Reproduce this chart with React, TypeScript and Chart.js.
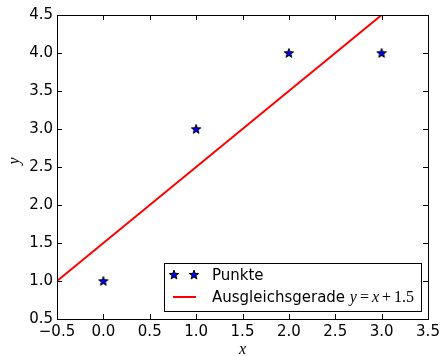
import React, { useEffect, useRef } from "react";
import { Chart, registerables } from "chart.js";

Chart.register(...registerables);

const pointsX = [0, 1, 2, 3];
const pointsY = [1.0, 3.0, 4.0, 4.0];
const fitX = [-0.5, 3.0];
const fitY = [1.0, 4.5];
const xTicks = [-0.5, 0.0, 0.5, 1.0, 1.5, 2.0, 2.5, 3.0, 3.5];
const yTicks = [0.5, 1.0, 1.5, 2.0, 2.5, 3.0, 3.5, 4.0, 4.5];
const legendLabels = ["Punkte", "Ausgleichsgerade "];
const legendMath = "y=x+1.5";
const xLabel = "x";
const yLabel = "y";

const TICK_FONT = "15px 'DejaVu Sans'";
const MATH_FONT_IT = "italic 16px 'Liberation Serif'";
const MATH_FONT_UP = "16px 'Liberation Serif'";
const STAR_RO = 4.9;
const STAR_RI = 2.0;

function makeStar(): HTMLCanvasElement {
  const c = document.createElement("canvas");
  c.width = 12;
  c.height = 12;
  const ctx = c.getContext("2d")!;
  drawStar(ctx, 6, 6.4, STAR_RO, STAR_RI);
  return c;
}

function drawStar(ctx: CanvasRenderingContext2D, cx: number, cy: number, ro: number, ri: number) {
  ctx.beginPath();
  for (let i = 0; i < 10; i++) {
    const r = i % 2 === 0 ? ro : ri;
    const a = -Math.PI / 2 + (i * Math.PI) / 5;
    const px = cx + r * Math.cos(a);
    const py = cy + r * Math.sin(a);
    if (i === 0) ctx.moveTo(px, py);
    else ctx.lineTo(px, py);
  }
  ctx.closePath();
  ctx.fillStyle = "#0000ff";
  ctx.fill();
  ctx.strokeStyle = "#000000";
  ctx.lineWidth = 1;
  ctx.stroke();
}

const fmt = (v: number) => {
  const s = Number(v).toFixed(1);
  return s.replace("-", "\u2212");
};

const framePlugin = {
  id: "mplFrame",
  afterDatasetsDraw(chart: any) {
    const ctx = chart.ctx as CanvasRenderingContext2D;
    const { left, right, top, bottom } = chart.chartArea;
    const xs = chart.scales.x;
    const ys = chart.scales.y;
    const TL = 5;
    ctx.save();
    ctx.strokeStyle = "#000";
    ctx.lineWidth = 1;
    ctx.beginPath();
    xTicks.forEach((t) => {
      const px = Math.round(xs.getPixelForValue(t)) + 0.5;
      ctx.moveTo(px, bottom);
      ctx.lineTo(px, bottom - TL);
      ctx.moveTo(px, top);
      ctx.lineTo(px, top + TL);
    });
    yTicks.forEach((t) => {
      const py = Math.round(ys.getPixelForValue(t)) + 0.5;
      ctx.moveTo(left, py);
      ctx.lineTo(left + TL, py);
      ctx.moveTo(right, py);
      ctx.lineTo(right - TL, py);
    });
    ctx.stroke();
    ctx.strokeRect(Math.round(left) + 0.5, Math.round(top) + 0.5, Math.round(right - left), Math.round(bottom - top));

    // legend
    const lx = 164.5, ly = 263.5, lw = 257, lh = 48;
    ctx.fillStyle = "#fff";
    ctx.fillRect(lx, ly, lw, lh);
    ctx.strokeRect(lx, ly, lw, lh);
    drawStar(ctx, 174, 275, STAR_RO, STAR_RI);
    drawStar(ctx, 194, 275, STAR_RO, STAR_RI);
    ctx.strokeStyle = "#ff0000";
    ctx.lineWidth = 2;
    ctx.beginPath();
    ctx.moveTo(173, 297);
    ctx.lineTo(196, 297);
    ctx.stroke();
    ctx.fillStyle = "#000";
    ctx.font = TICK_FONT;
    ctx.textBaseline = "alphabetic";
    ctx.textAlign = "left";
    ctx.fillText(legendLabels[0], 212, 280);
    ctx.fillText(legendLabels[1], 212, 302);
    let mx = 212 + ctx.measureText(legendLabels[1]).width;
    const parts: [string, boolean, number][] = [];
    for (const ch of legendMath.split(/(?=[=+])|(?<=[=+])/)) {
      parts.push([ch, /^[a-z]$/.test(ch), /^[=+]$/.test(ch) ? 3 : 0]);
    }
    parts.forEach(([s, it, sp]) => {
      ctx.font = it ? MATH_FONT_IT : MATH_FONT_UP;
      mx += sp;
      ctx.fillText(s, mx, 302);
      mx += ctx.measureText(s).width + sp;
    });

    // axis labels
    ctx.font = MATH_FONT_IT;
    ctx.textAlign = "center";
    ctx.textBaseline = "middle";
    ctx.fillText(xLabel, (left + right) / 2, 350);
    ctx.save();
    ctx.translate(15, (top + bottom) / 2 - 6);
    ctx.rotate(-Math.PI / 2);
    ctx.fillText(yLabel, 0, 0);
    ctx.restore();
    ctx.restore();
  },
};

export default function App() {
  const ref = useRef<HTMLCanvasElement>(null);
  useEffect(() => {
    const star = makeStar();
    const chart = new Chart(ref.current!, {
      type: "scatter",
      data: {
        datasets: [
          {
            label: legendLabels[0],
            data: pointsX.map((x, i) => ({ x, y: pointsY[i] })),
            pointStyle: star as any,
            pointRadius: 6,
            showLine: false,
          },
          {
            label: legendLabels[1],
            data: fitX.map((x, i) => ({ x, y: fitY[i] })),
            showLine: true,
            borderColor: "#ff0000",
            borderWidth: 2,
            pointRadius: 0,
          },
        ],
      },
      options: {
        responsive: false,
        animation: false,
        layout: { padding: { top: 15, right: 12, left: 0, bottom: 0 } },
        plugins: { legend: { display: false }, tooltip: { enabled: false } },
        scales: {
          x: {
            type: "linear",
            min: -0.5,
            max: 3.5,
            afterBuildTicks: (s: any) => {
              s.ticks = xTicks.map((v) => ({ value: v }));
            },
            afterFit: (s: any) => {
              s.height = 37;
              s.paddingLeft = 0;
              s.paddingRight = 0;
            },
            grid: { display: false, drawTicks: false },
            border: { display: false },
            ticks: {
              font: { family: "DejaVu Sans", size: 15 },
              color: "#000",
              padding: 4,
              maxRotation: 0,
              autoSkip: false,
              callback: (v: any) => fmt(v),
            },
          },
          y: {
            type: "linear",
            min: 0.5,
            max: 4.5,
            afterBuildTicks: (s: any) => {
              s.ticks = yTicks.map((v) => ({ value: v }));
            },
            afterFit: (s: any) => {
              s.width = 57;
              s.paddingTop = 0;
              s.paddingBottom = 0;
            },
            grid: { display: false, drawTicks: false },
            border: { display: false },
            ticks: {
              font: { family: "DejaVu Sans", size: 15 },
              color: "#000",
              padding: 4,
              autoSkip: false,
              callback: (v: any) => fmt(v),
            },
          },
        },
      },
      plugins: [framePlugin],
    });
    return () => chart.destroy();
  }, []);
  return (
    <div style={{ position: "fixed", left: 0, top: 0, width: 440, height: 356, background: "#fff" }}>
      <canvas ref={ref} width={440} height={356} />
    </div>
  );
}
